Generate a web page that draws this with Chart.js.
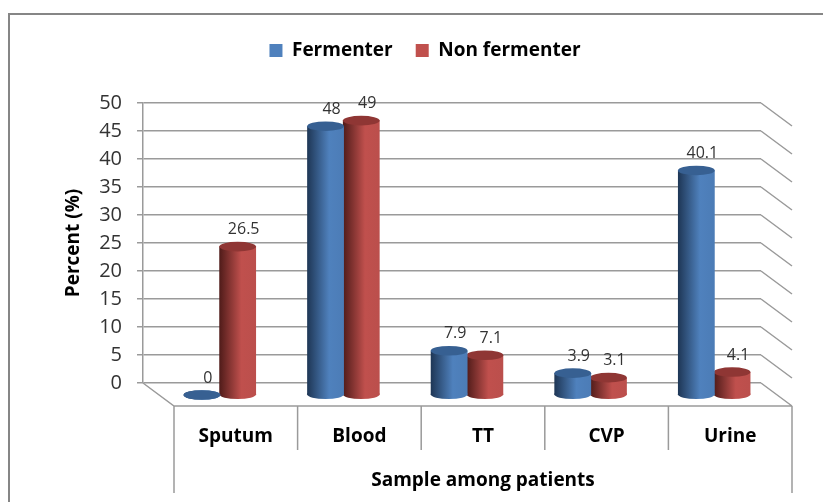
<!DOCTYPE html>
<html lang="en">
<head>
    <meta charset="utf-8">
    <title>Sample among patients</title>
    <script src="https://cdn.jsdelivr.net/npm/chart.js"></script>
    <style>
        body { margin: 0; background: #fff; }
        #wrap { position: relative; width: 823px; height: 502px; overflow: hidden; }
        #frame {
            position: absolute; left: 8px; top: 13px; right: -5px; bottom: -5px;
            border-left: 2px solid #868686; border-top: 2px solid #868686;
        }
        canvas { position: absolute; left: 0; top: 0; }
    </style>
</head>
<body>
<div id="wrap">
    <div id="frame"></div>
    <canvas id="chart" width="823" height="502"></canvas>
</div>
<script>
    const categories = ['Sputum', 'Blood', 'TT', 'CVP', 'Urine'];
    const fermenter = [0, 48, 7.9, 3.9, 40.1];
    const nonFermenter = [26.5, 49, 7.1, 3.1, 4.1];
    const seriesNames = ['Fermenter', 'Non fermenter'];
    const yMin = 0, yMax = 50, yStep = 5;
    const xAxisTitle = 'Sample among patients';
    const yAxisTitle = 'Percent (%)';

    const FONT = '"Open Sans", sans-serif';
    const LINE = '#9a9a9a';
    const solid = ['#4f81bd', '#c0504d'];
    const caps = ['#376092', '#8f3634'];
    const stops = [
        ['#1e3655', '#4f81bd', '#4c7cb6'],
        ['#4f1b19', '#c0504d', '#bb4f4c']
    ];
    const catPct = 0.578, barPct = 1.03;

    // 3D look: floor depth, and how far the bars sit in from the back wall
    const depthX = 31, depthY = 23, barX = 15, barY = 12, capRy = 4.8;

    function barFill(c) {
        if (c.type !== 'data') return solid[c.datasetIndex];
        const x = c.chart.scales.x;
        const slot = x.width / categories.length * catPct / 2;
        const mid = x.getPixelForValue(c.index) + (c.datasetIndex - 0.5) * slot;
        const half = slot * barPct / 2;
        const g = c.chart.ctx.createLinearGradient(mid - half, 0, mid + half, 0);
        const s = stops[c.datasetIndex];
        g.addColorStop(0, s[0]);
        g.addColorStop(0.6, s[1]);
        g.addColorStop(1, s[2]);
        return g;
    }

    function ellipse(ctx, el, y, fill) {
        ctx.beginPath();
        ctx.ellipse(el.x, y, el.width / 2, capRy, 0, 0, Math.PI * 2);
        ctx.fillStyle = fill;
        ctx.fill();
    }

    const cylinders = {
        id: 'cylinders',
        // walls and floor, under the bars
        beforeDatasetsDraw(chart) {
            const { ctx, scales: { x, y } } = chart;
            const y0 = y.getPixelForValue(yMin);
            const step = x.width / categories.length;
            ctx.save();
            ctx.strokeStyle = LINE;
            ctx.lineWidth = 1.5;
            ctx.beginPath();
            y.ticks.forEach(t => {
                const py = y.getPixelForValue(t.value);
                ctx.moveTo(x.right, py);
                ctx.lineTo(x.right + depthX, py + depthY);
            });
            ctx.moveTo(x.left, y0);
            ctx.lineTo(x.left + depthX, y0 + depthY);
            ctx.lineTo(x.right + depthX, y0 + depthY);
            categories.concat('').forEach((c, i) => {
                const px = x.left + depthX + i * step;
                const edge = i === 0 || i === categories.length;
                ctx.moveTo(px, y0 + depthY);
                ctx.lineTo(px, y0 + depthY + (edge ? 87 : 44));
            });
            ctx.stroke();
            ctx.restore();
        },
        beforeDatasetDraw(chart, args) {
            const ctx = chart.ctx;
            ctx.save();
            ctx.translate(barX, barY);
            args.meta.data.forEach((el, i) => ellipse(ctx, el, el.base, barFill({
                type: 'data', chart, index: i, datasetIndex: args.index
            })));
        },
        afterDatasetDraw(chart, args) {
            const ctx = chart.ctx;
            args.meta.data.forEach(el => ellipse(ctx, el, el.y, caps[args.index]));
            ctx.restore();
        },
        // value labels and the x axis title, which follow the front of the floor
        afterDatasetsDraw(chart) {
            const { ctx, scales: { x, y } } = chart;
            ctx.save();
            ctx.textAlign = 'center';
            ctx.textBaseline = 'middle';
            ctx.fillStyle = '#333';
            ctx.font = '16px ' + FONT;
            chart.data.datasets.forEach((ds, d) => {
                chart.getDatasetMeta(d).data.forEach((el, i) => {
                    ctx.fillText(String(ds.data[i]), el.x + barX + 6, el.y + barY - 17);
                });
            });
            ctx.fillStyle = '#000';
            ctx.font = 'bold 19px ' + FONT;
            ctx.fillText(xAxisTitle, (x.left + x.right) / 2 + depthX, y.getPixelForValue(yMin) + 98);
            ctx.restore();
        }
    };

    new Chart(document.getElementById('chart'), {
        type: 'bar',
        data: {
            labels: categories,
            datasets: [
                { label: seriesNames[0], data: fermenter, backgroundColor: barFill, categoryPercentage: catPct, barPercentage: barPct },
                { label: seriesNames[1], data: nonFermenter, backgroundColor: barFill, categoryPercentage: catPct, barPercentage: barPct }
            ]
        },
        options: {
            responsive: false,
            animation: false,
            clip: false,
            layout: { padding: { left: 27, top: 18, right: 0, bottom: 0 } },
            plugins: {
                tooltip: { enabled: false },
                legend: {
                    position: 'top',
                    labels: {
                        boxWidth: 13,
                        boxHeight: 13,
                        padding: 23,
                        color: '#000',
                        font: { family: FONT, size: 19, weight: 'bold' },
                        generateLabels: () => seriesNames.map((n, i) => ({
                            text: n, fillStyle: solid[i], strokeStyle: solid[i], lineWidth: 0, datasetIndex: i
                        }))
                    }
                }
            },
            scales: {
                x: {
                    offset: true,
                    afterFit: s => { s.height = 119; },
                    grid: { display: false, drawTicks: false },
                    border: { display: false },
                    ticks: {
                        autoSkip: false,
                        maxRotation: 0,
                        padding: 42,
                        labelOffset: depthX,
                        color: '#000',
                        font: { family: FONT, size: 19, weight: 'bold' }
                    }
                },
                y: {
                    min: yMin,
                    max: yMax,
                    afterFit: s => { s.width = 116; },
                    grid: { color: LINE, lineWidth: 1.5, tickLength: 6 },
                    border: { color: LINE, width: 1.5 },
                    ticks: {
                        stepSize: yStep,
                        padding: 15,
                        color: '#333',
                        font: { family: FONT, size: 20 }
                    },
                    title: {
                        display: true,
                        text: yAxisTitle,
                        color: '#000',
                        font: { family: FONT, size: 19, weight: 'bold' },
                        padding: { top: 35, bottom: 0 }
                    }
                },
                // empty axes, they only hold room so the plot lands where the legend needs it
                spacerRight: {
                    type: 'linear', axis: 'y', position: 'right',
                    afterFit: s => { s.width = 62; },
                    grid: { display: false, drawTicks: false },
                    border: { display: false },
                    ticks: { display: false }
                },
                spacerTop: {
                    type: 'linear', axis: 'x', position: 'top',
                    afterFit: s => { s.height = 33; },
                    grid: { display: false, drawTicks: false },
                    border: { display: false },
                    ticks: { display: false }
                }
            }
        },
        plugins: [cylinders]
    });
</script>
</body>
</html>
